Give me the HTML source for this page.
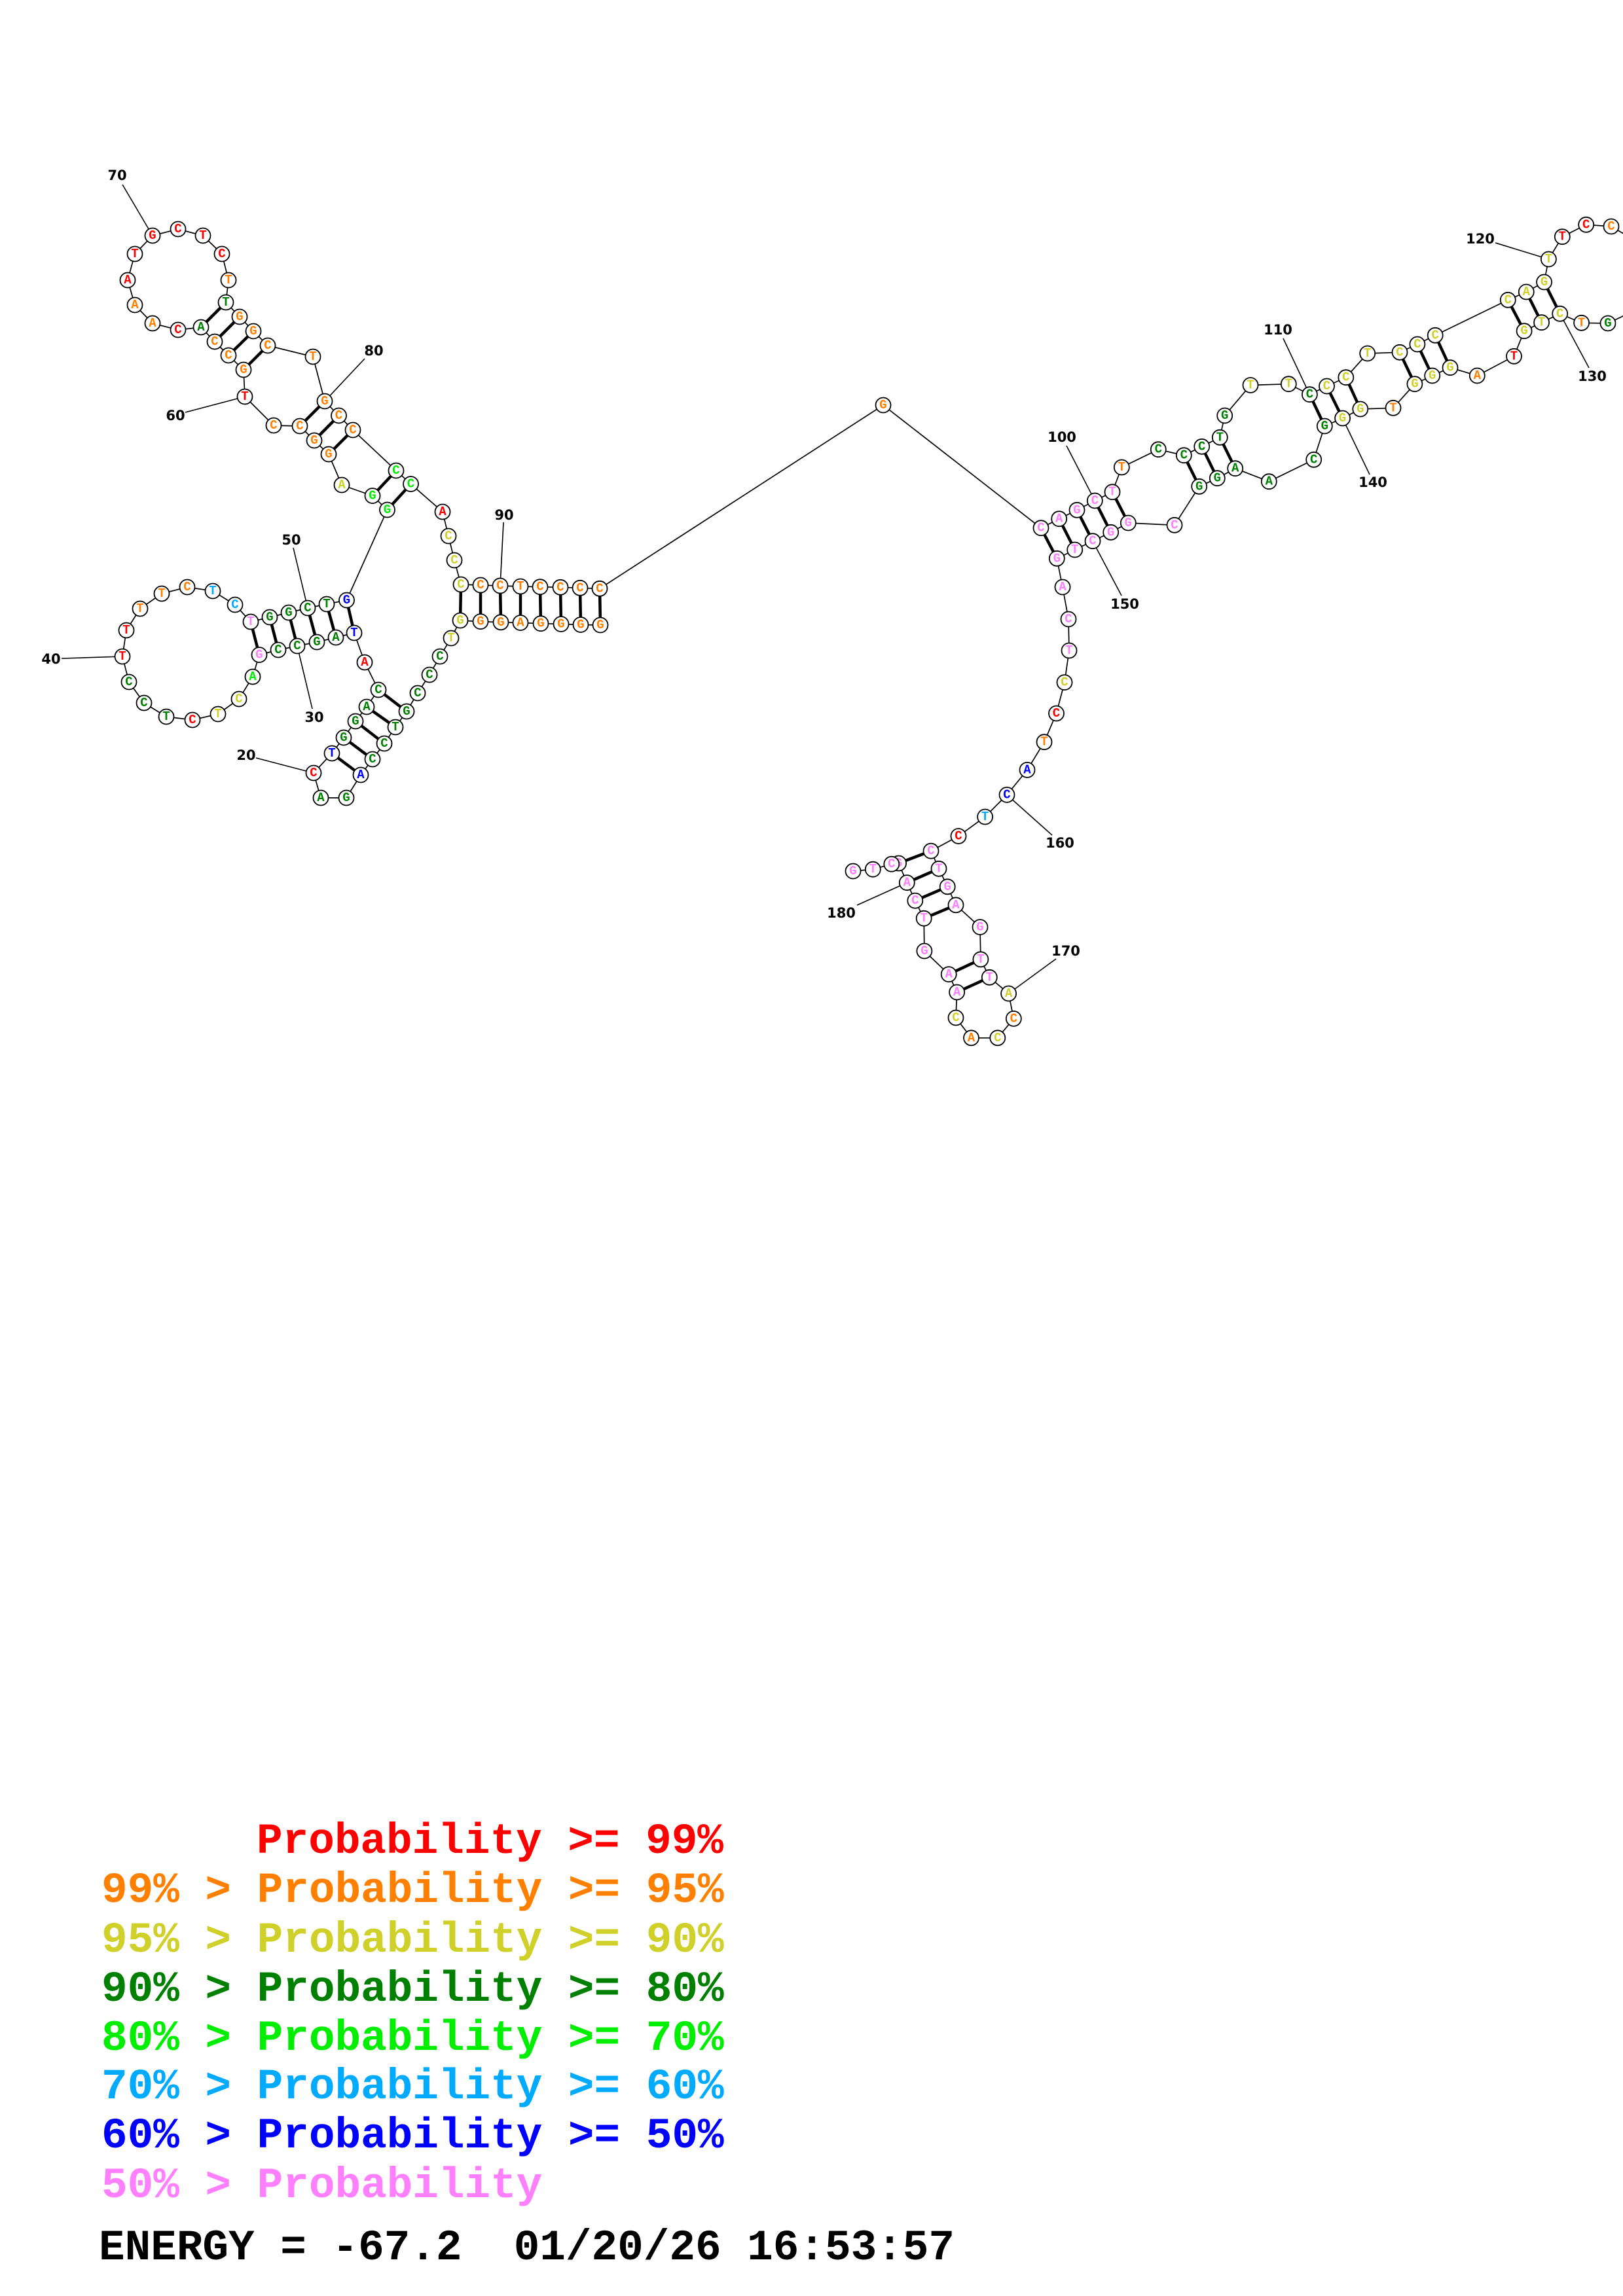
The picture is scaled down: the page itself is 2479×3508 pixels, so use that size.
<!DOCTYPE html>
<html><head><meta charset="utf-8"><style>
html,body{margin:0;padding:0;background:#fff;}
svg{display:block;}
.bb{fill:none;stroke:#000;stroke-width:1.7;}
.pr{stroke:#000;stroke-width:4.5;}
.ll{stroke:#000;stroke-width:1.6;}
circle{fill:#fff;stroke:#000;stroke-width:1.8;}
.n text{font-family:"Liberation Mono",monospace;font-weight:bold;font-size:19px;text-anchor:middle;dominant-baseline:central;}
.lb{font-family:"DejaVu Sans","Liberation Sans",sans-serif;font-weight:bold;font-size:21px;text-anchor:middle;dominant-baseline:central;fill:#000;}
.r{fill:#ff0000}.o{fill:#ff8000}.y{fill:#d0d02a}.d{fill:#008000}.g{fill:#00ee00}.c{fill:#00aaff}.b{fill:#0000ff}.p{fill:#ff80ff}
.lg{font-family:"Liberation Mono",monospace;font-weight:bold;font-size:66px;white-space:pre;}
.lg text{white-space:pre;}
</style></head><body>
<svg width="2479" height="3508" viewBox="0 0 2479 3508" xmlns="http://www.w3.org/2000/svg">
<polyline class="bb" points="917,955 887,954.5 857,953.5 826,952.7 795,951.5 765,950.8 734,949.6 703,948 689,975 672,1003 656,1031 638,1059 621,1087 604,1111 587,1136 569,1160 551,1184 529,1219 490,1219 479,1181 507,1151 525,1127 543,1102 560,1080 578,1054 557,1012 541,967 513,974 484,981 454,987 425,993 396,1000.5 386,1034 365,1068 333,1091 294,1100 254,1095 220,1074 197,1042 187,1003 193,963 214,930 247,907 286,897 325,903 359,924 383,950 412,943 441,936 470,929 499,923 529.5,917 591.5,779 569,757.5 522,741 502,694 480,673 458,651 418,650 374,606 372,565 349,543 328,522 307,500 272,504 233,494 206,466 195,428 206,388 233,360 272,350 310,360 339,388 349,428 345,462 366,484 387,506 409,528 478,545 496,613 517.5,635 539,657 605,719 627.5,739.5 676,782 685,819 694,856 704,893 734,894 764,895 795,896 825,896.7 856,897.3 886,898.3 916,899.3 1349,619 1590,806.7 1617.7,792.7 1645,779.3 1672.3,765 1699,751.7 1713.3,714 1769.3,686.7 1808.3,695.7 1835.7,682.3 1863.3,668.3 1870.7,635 1910,588.5 1968.3,586.7 2000.4,602.7 2026.5,590 2055.8,576.7 2088.7,540 2138,538.3 2164.9,526 2192.2,512.3 2303.3,458.3 2331.3,446 2358.6,431 2365.4,396 2386.3,361.7 2422.7,343.3 2461,346 2485,360"/>
<polyline class="bb" points="2485,480 2456,494 2415.6,493.3 2382.7,479.3 2354.6,492.7 2328.1,505.7 2312.5,544.3 2256.3,574 2215,561.7 2187.7,574 2160.9,586.7 2128,623.3 2077.8,625 2050.6,639 2023.3,651 2006.7,702.3 1938.3,735.7 1886.7,715.7 1859.3,730.7 1831.7,743.3 1794,802.3 1723.3,799 1696.7,813.3 1669,826.7 1641.7,840 1614.3,853.3 1623,897 1632,946 1633,994 1626,1042.6 1613.5,1090 1595,1133.7 1569,1176.4 1538,1214.4 1504.6,1248 1464,1277.5 1422,1300.2 1434,1327.3 1447.2,1354.8 1460,1382.8 1497,1416.5 1497.9,1465.8 1511.3,1493.3 1540.6,1518 1548.3,1556.4 1523.8,1585.8 1483.5,1585.8 1460,1555 1461.6,1516 1449.2,1488.6 1411.9,1453 1411.2,1403.2 1397.8,1376.1 1385.3,1348.6 1372.6,1319 1361.8,1320.2 1333.3,1328.2 1303,1331"/>
<g class="pr">
<line x1="704" y1="893" x2="703" y2="948"/><line x1="734" y1="894" x2="734" y2="949.6"/><line x1="764" y1="895" x2="765" y2="950.8"/><line x1="795" y1="896" x2="795" y2="951.5"/><line x1="825" y1="896.7" x2="826" y2="952.7"/><line x1="856" y1="897.3" x2="857" y2="953.5"/><line x1="886" y1="898.3" x2="887" y2="954.5"/><line x1="916" y1="899.3" x2="917" y2="955"/>
<line x1="578" y1="1054" x2="621" y2="1087"/><line x1="560" y1="1080" x2="604" y2="1111"/><line x1="543" y1="1102" x2="587" y2="1136"/><line x1="525" y1="1127" x2="569" y2="1160"/><line x1="507" y1="1151" x2="551" y2="1184"/>
<line x1="383" y1="950" x2="396" y2="1000.5"/><line x1="412" y1="943" x2="425" y2="993"/><line x1="441" y1="936" x2="454" y2="987"/><line x1="470" y1="929" x2="484" y2="981"/><line x1="499" y1="923" x2="513" y2="974"/><line x1="529.5" y1="917" x2="541" y2="967"/>
<line x1="591.5" y1="779" x2="627.5" y2="739.5"/><line x1="569" y1="757.5" x2="605" y2="719"/>
<line x1="502" y1="694" x2="539" y2="657"/><line x1="480" y1="673" x2="517.5" y2="635"/><line x1="458" y1="651" x2="496" y2="613"/>
<line x1="372" y1="565" x2="409" y2="528"/><line x1="349" y1="543" x2="387" y2="506"/><line x1="328" y1="522" x2="366" y2="484"/><line x1="307" y1="500" x2="345" y2="462"/>
<line x1="1590" y1="806.7" x2="1614.3" y2="853.3"/><line x1="1617.7" y1="792.7" x2="1641.7" y2="840"/><line x1="1645" y1="779.3" x2="1669" y2="826.7"/><line x1="1672.3" y1="765" x2="1696.7" y2="813.3"/><line x1="1699" y1="751.7" x2="1723.3" y2="799"/>
<line x1="1808.3" y1="695.7" x2="1831.7" y2="743.3"/><line x1="1835.7" y1="682.3" x2="1859.3" y2="730.7"/><line x1="1863.3" y1="668.3" x2="1886.7" y2="715.7"/>
<line x1="2000.4" y1="602.7" x2="2023.3" y2="651"/><line x1="2026.5" y1="590" x2="2050.6" y2="639"/><line x1="2055.8" y1="576.7" x2="2077.8" y2="625"/>
<line x1="2138" y1="538.3" x2="2160.9" y2="586.7"/><line x1="2164.9" y1="526" x2="2187.7" y2="574"/><line x1="2192.2" y1="512.3" x2="2215" y2="561.7"/>
<line x1="2303.3" y1="458.3" x2="2328.1" y2="505.7"/><line x1="2331.3" y1="446" x2="2354.6" y2="492.7"/><line x1="2358.6" y1="431" x2="2382.7" y2="479.3"/>
<line x1="1422" y1="1300.2" x2="1372.6" y2="1319"/><line x1="1434" y1="1327.3" x2="1385.3" y2="1348.6"/><line x1="1447.2" y1="1354.8" x2="1397.8" y2="1376.1"/><line x1="1460" y1="1382.8" x2="1411.2" y2="1403.2"/>
<line x1="1497.9" y1="1465.8" x2="1449.2" y2="1488.6"/><line x1="1511.3" y1="1493.3" x2="1461.6" y2="1516"/>
</g>
<g class="ll">
<line x1="187" y1="282" x2="233" y2="360"/><line x1="283" y1="630" x2="374" y2="606"/><line x1="557" y1="548" x2="496" y2="613"/><line x1="769" y1="798" x2="764" y2="895"/><line x1="448" y1="837" x2="470" y2="929"/><line x1="94" y1="1006" x2="187" y2="1003"/><line x1="454" y1="987" x2="477" y2="1083"/><line x1="391" y1="1158" x2="479" y2="1181"/>
<line x1="1629" y1="681" x2="1672.3" y2="765"/><line x1="1669" y1="826.7" x2="1713" y2="910"/><line x1="1960" y1="517" x2="2000.4" y2="602.7"/><line x1="2284" y1="371" x2="2365.4" y2="396"/><line x1="2382.7" y1="479.3" x2="2427" y2="562"/><line x1="2050.6" y1="639" x2="2092" y2="725"/><line x1="1538" y1="1214.4" x2="1607" y2="1276"/><line x1="1540.6" y1="1518" x2="1613" y2="1465"/><line x1="1309" y1="1383" x2="1385.3" y2="1348.6"/>
</g>
<g class="lb">
<text x="179" y="268">70</text><text x="268" y="635">60</text><text x="571" y="536">80</text><text x="770" y="787">90</text><text x="445" y="825">50</text><text x="78" y="1007">40</text><text x="480" y="1096">30</text><text x="376" y="1154">20</text>
<text x="1622" y="668">100</text><text x="1718" y="923">150</text><text x="1952" y="504">110</text><text x="2261" y="365">120</text><text x="2432" y="575">130</text><text x="2097" y="737">140</text><text x="1619" y="1288">160</text><text x="1628" y="1453">170</text><text x="1285" y="1395">180</text>
</g>
<g class="n">
<circle cx="917" cy="955" r="11.5"/><text x="917" y="955" class="o">G</text>
<circle cx="887" cy="954.5" r="11.5"/><text x="887" y="954.5" class="o">G</text>
<circle cx="857" cy="953.5" r="11.5"/><text x="857" y="953.5" class="o">G</text>
<circle cx="826" cy="952.7" r="11.5"/><text x="826" y="952.7" class="o">G</text>
<circle cx="795" cy="951.5" r="11.5"/><text x="795" y="951.5" class="o">A</text>
<circle cx="765" cy="950.8" r="11.5"/><text x="765" y="950.8" class="o">G</text>
<circle cx="734" cy="949.6" r="11.5"/><text x="734" y="949.6" class="o">G</text>
<circle cx="703" cy="948" r="11.5"/><text x="703" y="948" class="y">G</text>
<circle cx="689" cy="975" r="11.5"/><text x="689" y="975" class="y">T</text>
<circle cx="672" cy="1003" r="11.5"/><text x="672" y="1003" class="d">C</text>
<circle cx="656" cy="1031" r="11.5"/><text x="656" y="1031" class="d">C</text>
<circle cx="638" cy="1059" r="11.5"/><text x="638" y="1059" class="d">C</text>
<circle cx="621" cy="1087" r="11.5"/><text x="621" y="1087" class="d">G</text>
<circle cx="604" cy="1111" r="11.5"/><text x="604" y="1111" class="d">T</text>
<circle cx="587" cy="1136" r="11.5"/><text x="587" y="1136" class="d">C</text>
<circle cx="569" cy="1160" r="11.5"/><text x="569" y="1160" class="d">C</text>
<circle cx="551" cy="1184" r="11.5"/><text x="551" y="1184" class="b">A</text>
<circle cx="529" cy="1219" r="11.5"/><text x="529" y="1219" class="d">G</text>
<circle cx="490" cy="1219" r="11.5"/><text x="490" y="1219" class="d">A</text>
<circle cx="479" cy="1181" r="11.5"/><text x="479" y="1181" class="r">C</text>
<circle cx="507" cy="1151" r="11.5"/><text x="507" y="1151" class="b">T</text>
<circle cx="525" cy="1127" r="11.5"/><text x="525" y="1127" class="d">G</text>
<circle cx="543" cy="1102" r="11.5"/><text x="543" y="1102" class="d">G</text>
<circle cx="560" cy="1080" r="11.5"/><text x="560" y="1080" class="d">A</text>
<circle cx="578" cy="1054" r="11.5"/><text x="578" y="1054" class="d">C</text>
<circle cx="557" cy="1012" r="11.5"/><text x="557" y="1012" class="r">A</text>
<circle cx="541" cy="967" r="11.5"/><text x="541" y="967" class="b">T</text>
<circle cx="513" cy="974" r="11.5"/><text x="513" y="974" class="d">A</text>
<circle cx="484" cy="981" r="11.5"/><text x="484" y="981" class="d">G</text>
<circle cx="454" cy="987" r="11.5"/><text x="454" y="987" class="d">C</text>
<circle cx="425" cy="993" r="11.5"/><text x="425" y="993" class="d">C</text>
<circle cx="396" cy="1000.5" r="11.5"/><text x="396" y="1000.5" class="p">G</text>
<circle cx="386" cy="1034" r="11.5"/><text x="386" y="1034" class="g">A</text>
<circle cx="365" cy="1068" r="11.5"/><text x="365" y="1068" class="y">C</text>
<circle cx="333" cy="1091" r="11.5"/><text x="333" y="1091" class="y">T</text>
<circle cx="294" cy="1100" r="11.5"/><text x="294" y="1100" class="r">C</text>
<circle cx="254" cy="1095" r="11.5"/><text x="254" y="1095" class="d">T</text>
<circle cx="220" cy="1074" r="11.5"/><text x="220" y="1074" class="d">C</text>
<circle cx="197" cy="1042" r="11.5"/><text x="197" y="1042" class="d">C</text>
<circle cx="187" cy="1003" r="11.5"/><text x="187" y="1003" class="r">T</text>
<circle cx="193" cy="963" r="11.5"/><text x="193" y="963" class="r">T</text>
<circle cx="214" cy="930" r="11.5"/><text x="214" y="930" class="o">T</text>
<circle cx="247" cy="907" r="11.5"/><text x="247" y="907" class="o">T</text>
<circle cx="286" cy="897" r="11.5"/><text x="286" y="897" class="o">C</text>
<circle cx="325" cy="903" r="11.5"/><text x="325" y="903" class="c">T</text>
<circle cx="359" cy="924" r="11.5"/><text x="359" y="924" class="c">C</text>
<circle cx="383" cy="950" r="11.5"/><text x="383" y="950" class="p">T</text>
<circle cx="412" cy="943" r="11.5"/><text x="412" y="943" class="d">G</text>
<circle cx="441" cy="936" r="11.5"/><text x="441" y="936" class="d">G</text>
<circle cx="470" cy="929" r="11.5"/><text x="470" y="929" class="d">C</text>
<circle cx="499" cy="923" r="11.5"/><text x="499" y="923" class="d">T</text>
<circle cx="529.5" cy="917" r="11.5"/><text x="529.5" y="917" class="b">G</text>
<circle cx="591.5" cy="779" r="11.5"/><text x="591.5" y="779" class="g">G</text>
<circle cx="569" cy="757.5" r="11.5"/><text x="569" y="757.5" class="g">G</text>
<circle cx="522" cy="741" r="11.5"/><text x="522" y="741" class="y">A</text>
<circle cx="502" cy="694" r="11.5"/><text x="502" y="694" class="o">G</text>
<circle cx="480" cy="673" r="11.5"/><text x="480" y="673" class="o">G</text>
<circle cx="458" cy="651" r="11.5"/><text x="458" y="651" class="o">C</text>
<circle cx="418" cy="650" r="11.5"/><text x="418" y="650" class="o">C</text>
<circle cx="374" cy="606" r="11.5"/><text x="374" y="606" class="r">T</text>
<circle cx="372" cy="565" r="11.5"/><text x="372" y="565" class="o">G</text>
<circle cx="349" cy="543" r="11.5"/><text x="349" y="543" class="o">C</text>
<circle cx="328" cy="522" r="11.5"/><text x="328" y="522" class="o">C</text>
<circle cx="307" cy="500" r="11.5"/><text x="307" y="500" class="d">A</text>
<circle cx="272" cy="504" r="11.5"/><text x="272" y="504" class="r">C</text>
<circle cx="233" cy="494" r="11.5"/><text x="233" y="494" class="o">A</text>
<circle cx="206" cy="466" r="11.5"/><text x="206" y="466" class="o">A</text>
<circle cx="195" cy="428" r="11.5"/><text x="195" y="428" class="r">A</text>
<circle cx="206" cy="388" r="11.5"/><text x="206" y="388" class="r">T</text>
<circle cx="233" cy="360" r="11.5"/><text x="233" y="360" class="r">G</text>
<circle cx="272" cy="350" r="11.5"/><text x="272" y="350" class="r">C</text>
<circle cx="310" cy="360" r="11.5"/><text x="310" y="360" class="r">T</text>
<circle cx="339" cy="388" r="11.5"/><text x="339" y="388" class="r">C</text>
<circle cx="349" cy="428" r="11.5"/><text x="349" y="428" class="o">T</text>
<circle cx="345" cy="462" r="11.5"/><text x="345" y="462" class="d">T</text>
<circle cx="366" cy="484" r="11.5"/><text x="366" y="484" class="o">G</text>
<circle cx="387" cy="506" r="11.5"/><text x="387" y="506" class="o">G</text>
<circle cx="409" cy="528" r="11.5"/><text x="409" y="528" class="o">C</text>
<circle cx="478" cy="545" r="11.5"/><text x="478" y="545" class="o">T</text>
<circle cx="496" cy="613" r="11.5"/><text x="496" y="613" class="o">G</text>
<circle cx="517.5" cy="635" r="11.5"/><text x="517.5" y="635" class="o">C</text>
<circle cx="539" cy="657" r="11.5"/><text x="539" y="657" class="o">C</text>
<circle cx="605" cy="719" r="11.5"/><text x="605" y="719" class="g">C</text>
<circle cx="627.5" cy="739.5" r="11.5"/><text x="627.5" y="739.5" class="g">C</text>
<circle cx="676" cy="782" r="11.5"/><text x="676" y="782" class="r">A</text>
<circle cx="685" cy="819" r="11.5"/><text x="685" y="819" class="y">C</text>
<circle cx="694" cy="856" r="11.5"/><text x="694" y="856" class="y">C</text>
<circle cx="704" cy="893" r="11.5"/><text x="704" y="893" class="y">C</text>
<circle cx="734" cy="894" r="11.5"/><text x="734" y="894" class="o">C</text>
<circle cx="764" cy="895" r="11.5"/><text x="764" y="895" class="o">C</text>
<circle cx="795" cy="896" r="11.5"/><text x="795" y="896" class="o">T</text>
<circle cx="825" cy="896.7" r="11.5"/><text x="825" y="896.7" class="o">C</text>
<circle cx="856" cy="897.3" r="11.5"/><text x="856" y="897.3" class="o">C</text>
<circle cx="886" cy="898.3" r="11.5"/><text x="886" y="898.3" class="o">C</text>
<circle cx="916" cy="899.3" r="11.5"/><text x="916" y="899.3" class="o">C</text>
<circle cx="1349" cy="619" r="11.5"/><text x="1349" y="619" class="o">G</text>
<circle cx="1590" cy="806.7" r="11.5"/><text x="1590" y="806.7" class="p">C</text>
<circle cx="1617.7" cy="792.7" r="11.5"/><text x="1617.7" y="792.7" class="p">A</text>
<circle cx="1645" cy="779.3" r="11.5"/><text x="1645" y="779.3" class="p">G</text>
<circle cx="1672.3" cy="765" r="11.5"/><text x="1672.3" y="765" class="p">C</text>
<circle cx="1699" cy="751.7" r="11.5"/><text x="1699" y="751.7" class="p">T</text>
<circle cx="1713.3" cy="714" r="11.5"/><text x="1713.3" y="714" class="o">T</text>
<circle cx="1769.3" cy="686.7" r="11.5"/><text x="1769.3" y="686.7" class="d">C</text>
<circle cx="1808.3" cy="695.7" r="11.5"/><text x="1808.3" y="695.7" class="d">C</text>
<circle cx="1835.7" cy="682.3" r="11.5"/><text x="1835.7" y="682.3" class="d">C</text>
<circle cx="1863.3" cy="668.3" r="11.5"/><text x="1863.3" y="668.3" class="d">T</text>
<circle cx="1870.7" cy="635" r="11.5"/><text x="1870.7" y="635" class="d">G</text>
<circle cx="1910" cy="588.5" r="11.5"/><text x="1910" y="588.5" class="y">T</text>
<circle cx="1968.3" cy="586.7" r="11.5"/><text x="1968.3" y="586.7" class="y">T</text>
<circle cx="2000.4" cy="602.7" r="11.5"/><text x="2000.4" y="602.7" class="d">C</text>
<circle cx="2026.5" cy="590" r="11.5"/><text x="2026.5" y="590" class="y">C</text>
<circle cx="2055.8" cy="576.7" r="11.5"/><text x="2055.8" y="576.7" class="y">C</text>
<circle cx="2088.7" cy="540" r="11.5"/><text x="2088.7" y="540" class="y">T</text>
<circle cx="2138" cy="538.3" r="11.5"/><text x="2138" y="538.3" class="y">C</text>
<circle cx="2164.9" cy="526" r="11.5"/><text x="2164.9" y="526" class="y">C</text>
<circle cx="2192.2" cy="512.3" r="11.5"/><text x="2192.2" y="512.3" class="y">C</text>
<circle cx="2303.3" cy="458.3" r="11.5"/><text x="2303.3" y="458.3" class="y">C</text>
<circle cx="2331.3" cy="446" r="11.5"/><text x="2331.3" y="446" class="y">A</text>
<circle cx="2358.6" cy="431" r="11.5"/><text x="2358.6" y="431" class="y">G</text>
<circle cx="2365.4" cy="396" r="11.5"/><text x="2365.4" y="396" class="y">T</text>
<circle cx="2386.3" cy="361.7" r="11.5"/><text x="2386.3" y="361.7" class="r">T</text>
<circle cx="2422.7" cy="343.3" r="11.5"/><text x="2422.7" y="343.3" class="r">C</text>
<circle cx="2461" cy="346" r="11.5"/><text x="2461" y="346" class="o">C</text>
<circle cx="2456" cy="494" r="11.5"/><text x="2456" y="494" class="d">G</text>
<circle cx="2415.6" cy="493.3" r="11.5"/><text x="2415.6" y="493.3" class="o">T</text>
<circle cx="2382.7" cy="479.3" r="11.5"/><text x="2382.7" y="479.3" class="y">C</text>
<circle cx="2354.6" cy="492.7" r="11.5"/><text x="2354.6" y="492.7" class="y">T</text>
<circle cx="2328.1" cy="505.7" r="11.5"/><text x="2328.1" y="505.7" class="y">G</text>
<circle cx="2312.5" cy="544.3" r="11.5"/><text x="2312.5" y="544.3" class="r">T</text>
<circle cx="2256.3" cy="574" r="11.5"/><text x="2256.3" y="574" class="o">A</text>
<circle cx="2215" cy="561.7" r="11.5"/><text x="2215" y="561.7" class="y">G</text>
<circle cx="2187.7" cy="574" r="11.5"/><text x="2187.7" y="574" class="y">G</text>
<circle cx="2160.9" cy="586.7" r="11.5"/><text x="2160.9" y="586.7" class="y">G</text>
<circle cx="2128" cy="623.3" r="11.5"/><text x="2128" y="623.3" class="o">T</text>
<circle cx="2077.8" cy="625" r="11.5"/><text x="2077.8" y="625" class="y">G</text>
<circle cx="2050.6" cy="639" r="11.5"/><text x="2050.6" y="639" class="y">G</text>
<circle cx="2023.3" cy="651" r="11.5"/><text x="2023.3" y="651" class="d">G</text>
<circle cx="2006.7" cy="702.3" r="11.5"/><text x="2006.7" y="702.3" class="d">C</text>
<circle cx="1938.3" cy="735.7" r="11.5"/><text x="1938.3" y="735.7" class="d">A</text>
<circle cx="1886.7" cy="715.7" r="11.5"/><text x="1886.7" y="715.7" class="d">A</text>
<circle cx="1859.3" cy="730.7" r="11.5"/><text x="1859.3" y="730.7" class="d">G</text>
<circle cx="1831.7" cy="743.3" r="11.5"/><text x="1831.7" y="743.3" class="d">G</text>
<circle cx="1794" cy="802.3" r="11.5"/><text x="1794" y="802.3" class="p">C</text>
<circle cx="1723.3" cy="799" r="11.5"/><text x="1723.3" y="799" class="p">G</text>
<circle cx="1696.7" cy="813.3" r="11.5"/><text x="1696.7" y="813.3" class="p">G</text>
<circle cx="1669" cy="826.7" r="11.5"/><text x="1669" y="826.7" class="p">C</text>
<circle cx="1641.7" cy="840" r="11.5"/><text x="1641.7" y="840" class="p">T</text>
<circle cx="1614.3" cy="853.3" r="11.5"/><text x="1614.3" y="853.3" class="p">G</text>
<circle cx="1623" cy="897" r="11.5"/><text x="1623" y="897" class="p">A</text>
<circle cx="1632" cy="946" r="11.5"/><text x="1632" y="946" class="p">C</text>
<circle cx="1633" cy="994" r="11.5"/><text x="1633" y="994" class="p">T</text>
<circle cx="1626" cy="1042.6" r="11.5"/><text x="1626" y="1042.6" class="y">C</text>
<circle cx="1613.5" cy="1090" r="11.5"/><text x="1613.5" y="1090" class="r">C</text>
<circle cx="1595" cy="1133.7" r="11.5"/><text x="1595" y="1133.7" class="o">T</text>
<circle cx="1569" cy="1176.4" r="11.5"/><text x="1569" y="1176.4" class="b">A</text>
<circle cx="1538" cy="1214.4" r="11.5"/><text x="1538" y="1214.4" class="b">C</text>
<circle cx="1504.6" cy="1248" r="11.5"/><text x="1504.6" y="1248" class="c">T</text>
<circle cx="1464" cy="1277.5" r="11.5"/><text x="1464" y="1277.5" class="r">C</text>
<circle cx="1422" cy="1300.2" r="11.5"/><text x="1422" y="1300.2" class="p">C</text>
<circle cx="1434" cy="1327.3" r="11.5"/><text x="1434" y="1327.3" class="p">T</text>
<circle cx="1447.2" cy="1354.8" r="11.5"/><text x="1447.2" y="1354.8" class="p">G</text>
<circle cx="1460" cy="1382.8" r="11.5"/><text x="1460" y="1382.8" class="p">A</text>
<circle cx="1497" cy="1416.5" r="11.5"/><text x="1497" y="1416.5" class="p">G</text>
<circle cx="1497.9" cy="1465.8" r="11.5"/><text x="1497.9" y="1465.8" class="p">T</text>
<circle cx="1511.3" cy="1493.3" r="11.5"/><text x="1511.3" y="1493.3" class="p">T</text>
<circle cx="1540.6" cy="1518" r="11.5"/><text x="1540.6" y="1518" class="y">A</text>
<circle cx="1548.3" cy="1556.4" r="11.5"/><text x="1548.3" y="1556.4" class="o">C</text>
<circle cx="1523.8" cy="1585.8" r="11.5"/><text x="1523.8" y="1585.8" class="y">C</text>
<circle cx="1483.5" cy="1585.8" r="11.5"/><text x="1483.5" y="1585.8" class="o">A</text>
<circle cx="1460" cy="1555" r="11.5"/><text x="1460" y="1555" class="y">C</text>
<circle cx="1461.6" cy="1516" r="11.5"/><text x="1461.6" y="1516" class="p">A</text>
<circle cx="1449.2" cy="1488.6" r="11.5"/><text x="1449.2" y="1488.6" class="p">A</text>
<circle cx="1411.9" cy="1453" r="11.5"/><text x="1411.9" y="1453" class="p">G</text>
<circle cx="1411.2" cy="1403.2" r="11.5"/><text x="1411.2" y="1403.2" class="p">T</text>
<circle cx="1397.8" cy="1376.1" r="11.5"/><text x="1397.8" y="1376.1" class="p">C</text>
<circle cx="1385.3" cy="1348.6" r="11.5"/><text x="1385.3" y="1348.6" class="p">A</text>
<circle cx="1372.6" cy="1319" r="11.5"/><text x="1372.6" y="1319" class="p">G</text>
<circle cx="1361.8" cy="1320.2" r="11.5"/><text x="1361.8" y="1320.2" class="p">C</text>
<circle cx="1333.3" cy="1328.2" r="11.5"/><text x="1333.3" y="1328.2" class="p">T</text>
<circle cx="1303" cy="1331" r="11.5"/><text x="1303" y="1331" class="p">G</text>
</g>
<g class="lg">
<text x="392" y="2831" class="r">Probability &gt;= 99%</text>
<text x="155" y="2906" class="o">99% &gt; Probability &gt;= 95%</text>
<text x="155" y="2982" class="y">95% &gt; Probability &gt;= 90%</text>
<text x="155" y="3057" class="d">90% &gt; Probability &gt;= 80%</text>
<text x="155" y="3132" class="g">80% &gt; Probability &gt;= 70%</text>
<text x="155" y="3206" class="c">70% &gt; Probability &gt;= 60%</text>
<text x="155" y="3281" class="b">60% &gt; Probability &gt;= 50%</text>
<text x="155" y="3357" class="p">50% &gt; Probability</text>
<text x="151" y="3452" fill="#000">ENERGY = -67.2  01/20/26 16:53:57</text>
</g>
</svg>
</body></html>
